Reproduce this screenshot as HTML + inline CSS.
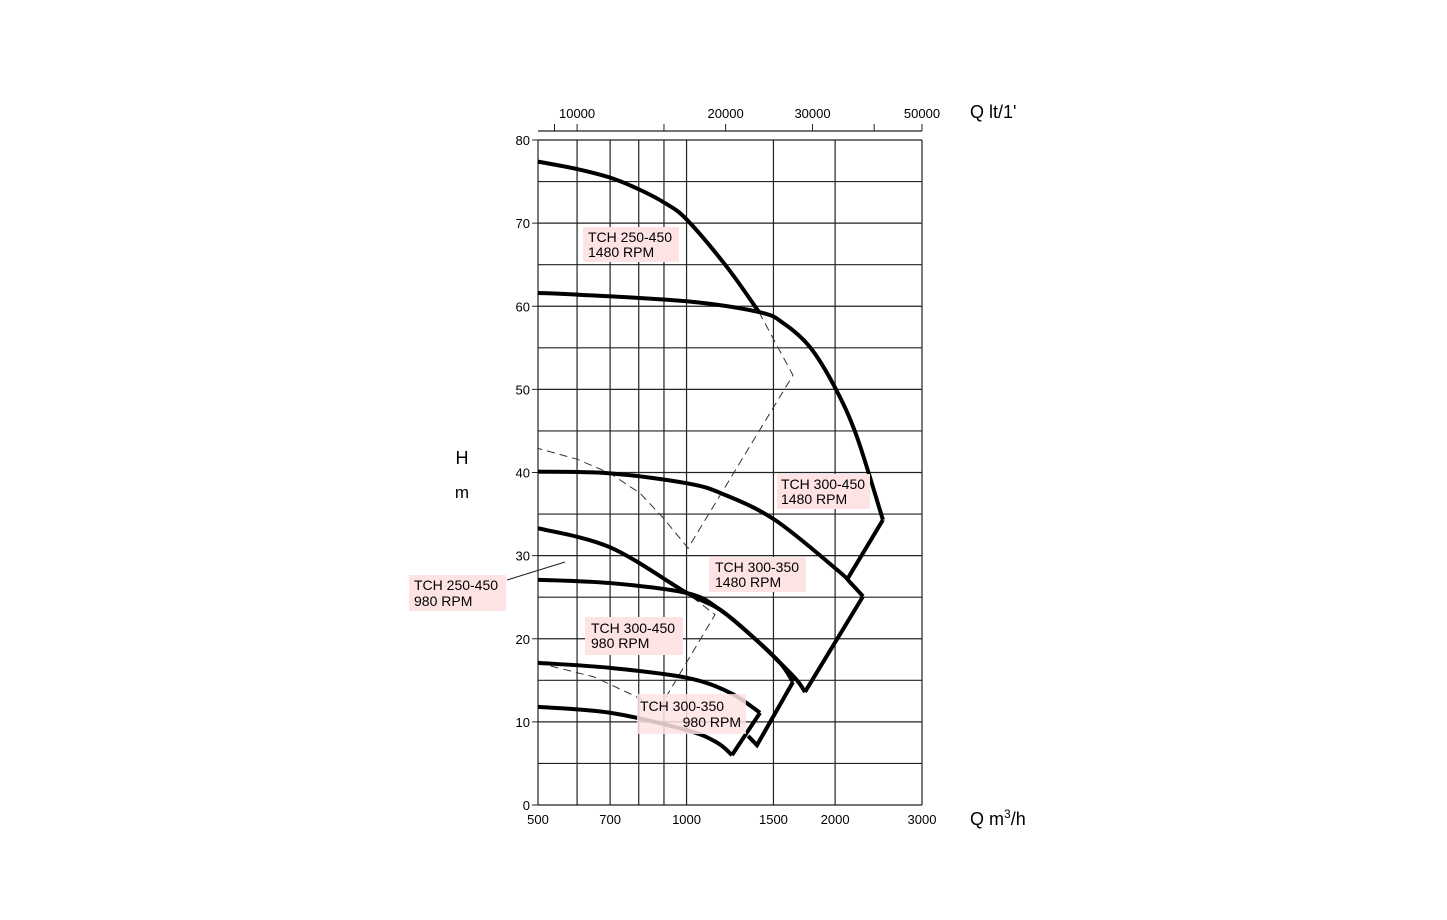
<!DOCTYPE html>
<html><head><meta charset="utf-8">
<style>
html,body{margin:0;padding:0;background:#fff;}
body{width:1447px;height:920px;overflow:hidden;}
svg{display:block;font-family:"Liberation Sans",Arial,sans-serif;}
</style></head>
<body>
<svg id="chart" width="1447" height="920" viewBox="0 0 1447 920" xmlns="http://www.w3.org/2000/svg">
<g id="grid"></g>
<g id="axes"></g>
<g id="series"></g>
<g id="labels"></g>
</svg>
<script>
const xGridQ = [500,600,700,800,900,1000,1500,2000,3000];
const xTickLabels = [500,700,1000,1500,2000,3000];
const yTicks = [0,10,20,30,40,50,60,70,80];
const topTicksL = [9000,10000,15000,20000,30000,40000,50000];
const topTickLabels = [10000,20000,30000,50000];

const curveA = [[500,77.4],[600,76.5],[706,75.4],[805,74.0],[905,72.4],[1002,70.4],[1208,64.7],[1402,59.3]];
const curveB = [[500,61.6],[600,61.4],[1000,60.6],[1402,59.3],[1568,58.0],[1778,55.1],[2000,50.2],[2214,44.3],[2500,34.3]];
const curveBEnd = [[2500,34.3],[2124,27.3]];
const curveC = [[500,40.1],[700,39.9],[1002,38.7],[1186,37.4],[1510,34.3],[2018,28.3],[2144,26.8],[2278,25.1]];
const curveCEnd = [[2278,25.1],[1738,13.6]];
const curveD = [[500,33.3],[700,31.0],[1002,25.5],[1169,23.5],[1364,20.2],[1547,17.1],[1674,15.0],[1738,13.6]];
const curveE = [[500,27.1],[700,26.7],[1002,25.5],[1169,23.5],[1364,20.2],[1547,17.1],[1643,14.8]];
const curveEEnd = [[1643,14.8],[1389,7.2],[1333,8.3]];
const curveF = [[500,17.1],[700,16.5],[1002,15.3],[1225,13.5],[1409,11.1]];
const curveFEnd = [[1409,11.1],[1236,6.0]];
const curveG = [[500,11.8],[700,11.1],[1002,9.0],[1153,7.5],[1236,6.0]];
const dashUpper = [[1402,59.3],[1643,51.7],[1007,30.9],[895,34.6],[805,37.5],[700,39.9],[600,41.6],[500,42.9]];
const dashLower = [[500,17.1],[650,15.4],[780,13.2],[880,11.6],[1142,22.9],[1002,25.5]];

const X0=538,X1=922,Y0=805,Y1=140;
function xs(q){return X0+(Math.log10(q/500)/Math.log10(6))*(X1-X0);}
function ys(h){return Y0-(h/80)*(Y0-Y1);}
const NS="http://www.w3.org/2000/svg";
function mk(tag,attrs,parent){const e=document.createElementNS(NS,tag);for(const k in attrs)e.setAttribute(k,attrs[k]);parent.appendChild(e);return e;}
const grid=document.getElementById('grid'),axes=document.getElementById('axes'),series=document.getElementById('series'),labels=document.getElementById('labels');

for(const q of xGridQ){const l=mk('line',{x1:xs(q),x2:xs(q),y1:Y1,y2:Y0,stroke:'#222','stroke-width':1.2},grid);

}
for(let h=0;h<=80;h+=5){const l=mk('line',{x1:X0,x2:X1,y1:ys(h),y2:ys(h),stroke:'#222','stroke-width':1.2},grid);

}

for(const h of yTicks){
mk('line',{x1:X0-6,x2:X0,y1:ys(h),y2:ys(h),stroke:'#222','stroke-width':1},axes);
const t=mk('text',{x:X0-8,y:ys(h)+5,'text-anchor':'end','font-size':13,fill:'#000'},axes);t.textContent=h;

}
for(const q of xTickLabels){const t=mk('text',{x:xs(q),y:824,'text-anchor':'middle','font-size':13,fill:'#000'},axes);t.textContent=q;

}
mk('line',{x1:X0,x2:X1,y1:131,y2:131,stroke:'#222','stroke-width':1.2},axes);
for(const l of topTicksL){const q=l*60/1000;mk('line',{x1:xs(q),x2:xs(q),y1:124,y2:131,stroke:'#222','stroke-width':1},axes);}
for(const l of topTickLabels){const q=l*60/1000;const t=mk('text',{x:xs(q),y:118,'text-anchor':'middle','font-size':13,fill:'#000'},axes);t.textContent=l;

}

function path(pts,attrs,name,smooth){
 const p=pts.map(d=>[xs(d[0]),ys(d[1])]);let d='M'+p[0][0]+','+p[0][1];
 if(smooth){for(let i=0;i<p.length-1;i++){const p0=p[i-1]||p[i],p1=p[i],p2=p[i+1],p3=p[i+2]||p2;
  const c1=[p1[0]+(p2[0]-p0[0])/6,p1[1]+(p2[1]-p0[1])/6],c2=[p2[0]-(p3[0]-p1[0])/6,p2[1]-(p3[1]-p1[1])/6];
  d+=' C'+c1+' '+c2+' '+p2;}}
 else{for(let i=1;i<p.length;i++)d+=' L'+p[i];}
 const e=mk('path',Object.assign({d:d,fill:'none'},attrs),series);
 
 
 return e;}
const thick={stroke:'#000','stroke-width':4,'stroke-linejoin':'miter','stroke-linecap':'butt'};
const dash={stroke:'#333','stroke-width':1,'stroke-dasharray':'8,5'};
path(dashUpper,dash,'efficiency-dashed-upper',false);
path(dashLower,dash,'efficiency-dashed-lower',false);
path(curveA,thick,'curve-tch-250-450-1480',true);
path(curveB,thick,'curve-tch-300-450-1480',true);
path(curveBEnd,thick,'curve-end-300-450-1480',false);
path(curveC,thick,'curve-tch-300-350-1480',true);
path(curveCEnd,thick,'curve-end-300-350-1480',false);
path(curveD,thick,'curve-tch-250-450-980',true);
path(curveE,thick,'curve-tch-300-450-980',true);
path(curveEEnd,thick,'curve-end-300-450-980',false);
path(curveF,thick,'curve-tch-300-350-980-upper',true);
path(curveFEnd,thick,'curve-end-300-350-980',false);
path(curveG,thick,'curve-tch-300-350-980-lower',true);
</script>
<svg style="position:absolute;left:0;top:0" width="1447" height="920">
<g font-family="Liberation Sans, Arial, sans-serif" font-size="14" fill="#000">
<text x="462" y="464" font-size="18" text-anchor="middle">H</text>
<text x="462" y="498" font-size="17" text-anchor="middle">m</text>
<text x="970" y="825" font-size="18">Q m<tspan dy="-7" font-size="12">3</tspan><tspan dy="7">/h</tspan></text>
<text x="970" y="118" font-size="18">Q lt/1'</text>
<line x1="507" y1="580" x2="565" y2="562" stroke="#222" stroke-width="1"/>
<g><rect x="583" y="227" width="96" height="35" fill="#fde3e3"/><text x="588" y="242">TCH 250-450</text><text x="588" y="257">1480 RPM</text></g>
<g><rect x="777" y="474" width="93" height="35" fill="#fde3e3"/><text x="781" y="489">TCH 300-450</text><text x="781" y="504">1480 RPM</text></g>
<g><rect x="709" y="557" width="97" height="35" fill="#fde3e3"/><text x="715" y="572">TCH 300-350</text><text x="715" y="587">1480 RPM</text></g>
<g><rect x="409" y="575" width="97" height="36" fill="#fde3e3"/><text x="414" y="590">TCH 250-450</text><text x="414" y="606">980 RPM</text></g>
<g><rect x="585" y="617" width="98" height="38" fill="#fde3e3"/><text x="591" y="633">TCH 300-450</text><text x="591" y="648">980 RPM</text></g>
<g><rect x="637" y="694" width="109" height="40" fill="#fde3e3" fill-opacity="0.85"/><text x="640" y="711">TCH 300-350</text><text x="741" y="727" text-anchor="end">980 RPM</text></g>
</g>
</svg>
</body></html>
